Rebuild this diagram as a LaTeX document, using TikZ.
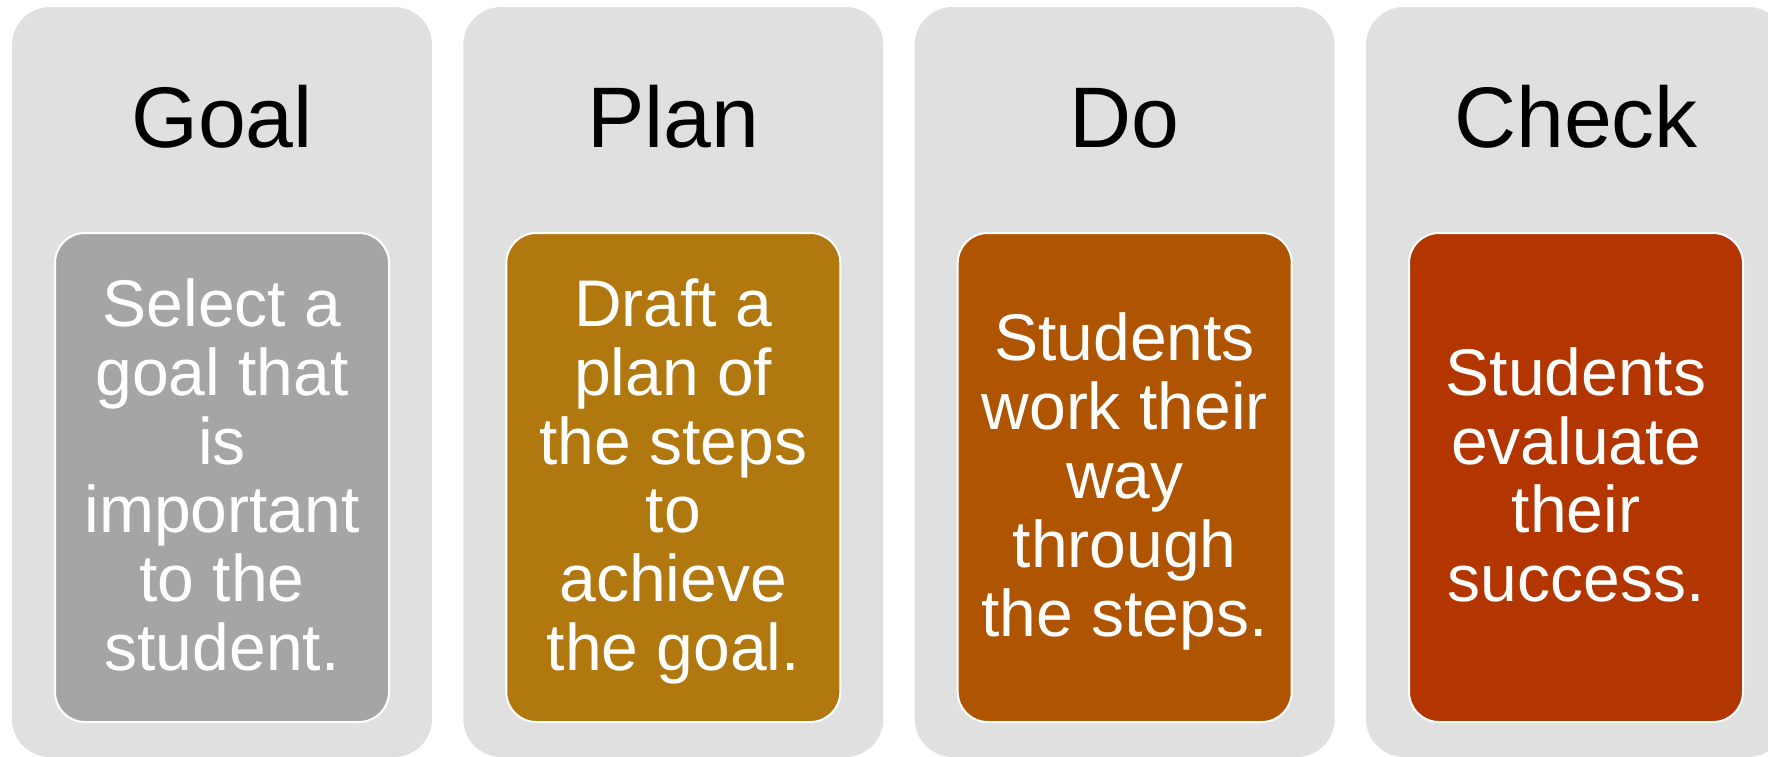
\documentclass[tikz,border=0pt]{standalone}
\usepackage{fontspec}
\setmainfont{Liberation Sans}
\definecolor{outergray}{HTML}{E0E0E0}
\definecolor{cgoal}{HTML}{A5A5A5}
\definecolor{cplan}{HTML}{B0780E}
\definecolor{cdo}{HTML}{AF5400}
\definecolor{ccheck}{HTML}{B33600}
\begin{document}
\begin{tikzpicture}[x=0.5pt,y=-0.5pt,
  outerbox/.style={fill=outergray, rounded corners=19pt, minimum width=210pt, minimum height=375pt, inner sep=0pt, draw=none},
  innerbox/.style={draw=white, line width=1pt, rounded corners=15pt, minimum width=167pt, minimum height=244.5pt, inner sep=0pt},
  titletext/.style={font=\fontsize{43}{50}\selectfont, text=black, anchor=base, inner sep=0pt},
  bodytext/.style={font=\fontsize{33}{34}\selectfont, text=white, anchor=base, inner sep=0pt}]
\useasboundingbox (0,0) rectangle (1768,756);
\clip (0,0) rectangle (1768,756);
\foreach \i/\cx/\col/\ttl in {1/222/cgoal/Goal, 2/673.3/cplan/Plan, 3/1124.7/cdo/Do, 4/1576/ccheck/Check}{
  \node[outerbox] (o\i) at (\cx,382) {};
  \node[innerbox, fill=\col] (b\i) at (\cx,477.5) {};
  \node[titletext] (t\i) at (\cx,147) {\ttl};
}
\foreach \l [count=\k from 0] in {Select a, goal that, is, important, to the, student.}
  \node[bodytext] (a\k) at (222,{498.5+(\k-2.5)*68.8}) {\l};
\foreach \l [count=\k from 0] in {Draft a, plan of, the steps, to, achieve, the goal.}
  \node[bodytext] (p\k) at (673.3,{498.5+(\k-2.5)*68.8}) {\l};
\foreach \l [count=\k from 0] in {Students, work their, way, through, the steps.}
  \node[bodytext] (d\k) at (1124.7,{498.5+(\k-2)*68.8}) {\l};
\foreach \l [count=\k from 0] in {Students, evaluate, their, success.}
  \node[bodytext] (c\k) at (1576,{498.5+(\k-1.5)*68.8}) {\l};
\end{tikzpicture}
\end{document}
